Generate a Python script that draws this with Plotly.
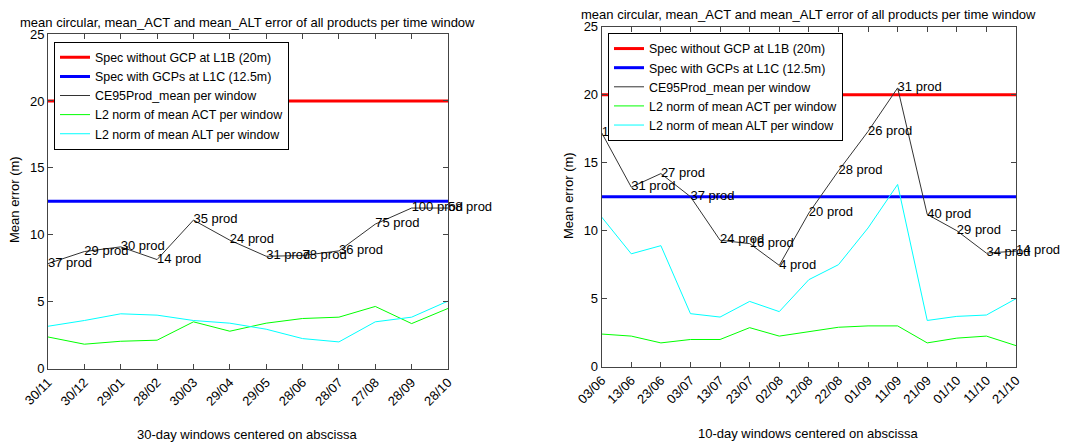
import plotly.graph_objects as go

# ---- left panel: 30-day windows ----
dates_30 = ['30/11', '30/12', '29/01', '28/02', '30/03', '29/04',
            '29/05', '28/06', '28/07', '27/08', '28/09', '28/10']
ce95_30 = [7.85, 8.75, 9.1, 8.15, 11.1, 9.6, 8.4, 8.45, 8.8, 10.8, 12.0, 12.0]
act_30 = [2.37, 1.83, 2.05, 2.13, 3.5, 2.8, 3.4, 3.75, 3.85, 4.65, 3.37, 4.5]
alt_30 = [3.17, 3.6, 4.1, 4.0, 3.6, 3.4, 2.95, 2.25, 2.0, 3.5, 3.85, 5.05]
nprod_30 = [37, 29, 30, 14, 35, 24, 31, 78, 36, 75, 100, 58]

# ---- right panel: 10-day windows ----
dates_10 = ['03/06', '13/06', '23/06', '03/07', '13/07', '23/07', '02/08', '12/08',
            '22/08', '01/09', '11/09', '21/09', '01/10', '11/10', '21/10']
ce95_10 = [17.2, 13.2, 14.2, 12.5, 9.3, 9.05, 7.45, 11.3, 14.4, 17.3, 20.5,
           11.2, 10.0, 8.35, 8.5]
act_10 = [2.4, 2.25, 1.75, 2.0, 2.0, 2.87, 2.25, 2.55, 2.9, 3.0, 3.0,
          1.75, 2.1, 2.25, 1.55]
alt_10 = [11.0, 8.3, 8.9, 3.9, 3.65, 4.8, 4.05, 6.4, 7.5, 10.2, 13.4,
          3.4, 3.7, 3.8, 5.0]
nprod_10 = [11, 31, 27, 37, 24, 16, 4, 20, 28, 26, 31, 40, 29, 34, 14]

spec_l1b = 20.0
spec_l1c = 12.5

FONT = "Liberation Sans, Arial, sans-serif"
FS = 13
TITLE = "mean circular, mean_ACT and mean_ALT error of all products per time window"


def add_panel(fig, dates, ce95, act, alt, nprod, xa, ya, legend):
    x = list(range(len(dates)))
    common = dict(xaxis=xa, yaxis=ya, legend=legend)
    fig.add_trace(go.Scatter(x=x, y=[spec_l1b] * len(x), mode='lines',
                             line=dict(color='#ff0000', width=3),
                             name='Spec without GCP at L1B (20m)', **common))
    fig.add_trace(go.Scatter(x=x, y=[spec_l1c] * len(x), mode='lines',
                             line=dict(color='#0000ff', width=3),
                             name='Spec with GCPs at L1C (12.5m)', **common))
    fig.add_trace(go.Scatter(x=x, y=ce95, mode='lines',
                             line=dict(color='#333333', width=1),
                             name='CE95Prod_mean per window', **common))
    fig.add_trace(go.Scatter(x=x, y=act, mode='lines',
                             line=dict(color='#00ff00', width=1),
                             name='L2 norm of mean ACT per window', **common))
    fig.add_trace(go.Scatter(x=x, y=alt, mode='lines',
                             line=dict(color='#00ffff', width=1),
                             name='L2 norm of mean ALT per window', **common))
    fig.add_trace(go.Scatter(x=x, y=ce95, mode='text',
                             text=[f'{n} prod' for n in nprod],
                             textposition='middle right',
                             textfont=dict(size=FS, color='black', family=FONT),
                             cliponaxis=False, showlegend=False,
                             xaxis=xa, yaxis=ya))


fig = go.Figure()
add_panel(fig, dates_30, ce95_30, act_30, alt_30, nprod_30, 'x', 'y', 'legend')
add_panel(fig, dates_10, ce95_10, act_10, alt_10, nprod_10, 'x2', 'y2', 'legend2')

axis_style = dict(showline=True, linecolor='#444444', linewidth=1, mirror='ticks',
                  ticks='inside', ticklen=5, tickcolor='#444444', showgrid=False,
                  zeroline=False, automargin=False,
                  tickfont=dict(size=FS, color='black', family=FONT))

legend_style = dict(xanchor='left', yanchor='top', bgcolor='white',
                    bordercolor='black', borderwidth=1, tracegroupgap=0,
                    font=dict(size=12.4, family=FONT))

fig.update_layout(
    width=1070, height=442,
    margin=dict(l=0, r=0, t=0, b=0),
    paper_bgcolor='white', plot_bgcolor='white',
    font=dict(family=FONT, size=FS, color='black'),
    xaxis=dict(domain=[48 / 1070, 448 / 1070], anchor='y', range=[0, len(dates_30) - 1],
               tickvals=list(range(len(dates_30))), ticktext=dates_30, tickangle=-45,
               **axis_style),
    yaxis=dict(domain=[73.3 / 442, 408 / 442], anchor='x', range=[0, 25],
               tickvals=[0, 5, 10, 15, 20, 25], **axis_style),
    xaxis2=dict(domain=[601.7 / 1070, 1016 / 1070], anchor='y2', range=[0, len(dates_10) - 1],
                tickvals=list(range(len(dates_10))), ticktext=dates_10, tickangle=-45,
                **axis_style),
    yaxis2=dict(domain=[75.3 / 442, 415.3 / 442], anchor='x2', range=[0, 25],
                tickvals=[0, 5, 10, 15, 20, 25], **axis_style),
    legend=dict(x=54 / 1070, y=1 - 41.7 / 442, **legend_style),
    legend2=dict(x=608 / 1070, y=1 - 33 / 442, **legend_style),
)

# titles and axis labels
annos = [
    dict(text=TITLE, x=247 / 1070, y=1 - 22 / 442),
    dict(text=TITLE, x=808 / 1070, y=1 - 14 / 442),
    dict(text='30-day windows centered on abscissa', x=247 / 1070, y=1 - 434 / 442),
    dict(text='10-day windows centered on abscissa', x=808 / 1070, y=1 - 433 / 442),
    dict(text='Mean error (m)', x=15 / 1070, y=1 - 200 / 442, textangle=-90),
    dict(text='Mean error (m)', x=568 / 1070, y=1 - 196 / 442, textangle=-90),
]
for a in annos:
    fig.add_annotation(xref='paper', yref='paper', showarrow=False,
                       xanchor='center', yanchor='middle',
                       font=dict(size=FS, color='black', family=FONT), **a)

# the page has a default body margin; drop it so the figure sits at 0,0
fig.write_html("out.html", config={'displayModeBar': False},
               post_script="document.body.style.margin='0';")
